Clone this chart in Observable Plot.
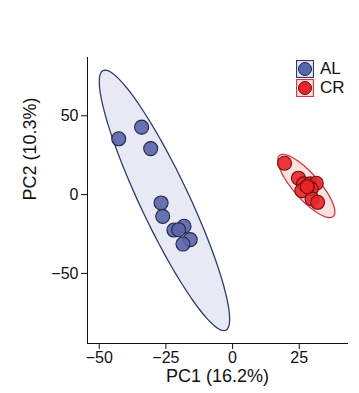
<!DOCTYPE html>
<html>
<head>
<meta charset="utf-8">
<script src="https://cdn.jsdelivr.net/npm/d3@7"></script>
<script src="https://cdn.jsdelivr.net/npm/@observablehq/plot@0.6"></script>
<style>
  html, body { margin: 0; padding: 0; background: #fff; }
  #wrap { position: relative; width: 359px; height: 393px; font-family: "Liberation Sans", Arial, sans-serif; }
  #legend { position: absolute; left: 296px; top: 59px; }
  .lg { display: flex; align-items: center; height: 19px; font-size: 17px; color: #111; }
  .lg svg { margin-right: 6px; }
</style>
</head>
<body>
<div id="wrap"><div id="legend"></div></div>
<script>
// Data (PC scores)
const groups = ["AL", "CR"];
const alPC1 = [-42.7, -34.1, -30.7, -26.8, -26.2, -22.0, -18.2, -20.2, -15.9, -18.6];
const alPC2 = [35.4, 42.8, 29.2, -5.3, -13.8, -22.5, -20.1, -22.3, -28.6, -31.4];
const crPC1 = [19.5, 24.7, 26.6, 29.1, 31.4, 29.5, 26.0, 29.8, 31.9, 28.0];
const crPC2 = [19.9, 10.4, 6.8, 6.8, 7.2, 3.6, 2.5, -2.7, -4.9, 5.0];
const xTicks = [-50, -25, 0, 25];
const yTicks = [-50, 0, 50];
const xLabel = "PC1 (16.2%)";
const yLabel = "PC2 (10.3%)";

const colors = {AL: "#5b65a9", CR: "#e8252a"};
const strokes = {AL: "#1f2449", CR: "#6e0d0d"};
const ellFill = {AL: "#e7e9f4", CR: "#fbe0e0"};
const ellStroke = {AL: "#323a6c", CR: "#d23a3a"};

const points = [
  ...alPC1.map((x, i) => ({group: "AL", x, y: alPC2[i]})),
  ...crPC1.map((x, i) => ({group: "CR", x, y: crPC2[i]}))
];

// 95% normal data ellipse (as ggplot2 stat_ellipse type = "norm")
function ellipse(xs, ys, group, level = 0.95, segments = 72) {
  const n = xs.length;
  const mx = d3.mean(xs), my = d3.mean(ys);
  let a = 0, b = 0, d = 0;
  for (let i = 0; i < n; i++) {
    const dx = xs[i] - mx, dy = ys[i] - my;
    a += dx * dx; b += dx * dy; d += dy * dy;
  }
  a /= n - 1; b /= n - 1; d /= n - 1;
  const dfd = n - 1;
  const qf = (dfd / 2) * (Math.pow(1 - level, -2 / dfd) - 1); // F(2, dfd) quantile
  const r = Math.sqrt(2 * qf);
  const R11 = Math.sqrt(a), R12 = b / R11, R22 = Math.sqrt(d - R12 * R12);
  const out = [];
  for (let k = 0; k < segments; k++) {
    const t = 2 * Math.PI * k / segments;
    const c = Math.cos(t), s = Math.sin(t);
    out.push({group, x: mx + r * c * R11, y: my + r * (c * R12 + s * R22)});
  }
  return out;
}
const ells = [...ellipse(alPC1, alPC2, "AL"), ...ellipse(crPC1, crPC2, "CR")];

const chart = Plot.plot({
  width: 359,
  height: 393,
  marginLeft: 87,
  marginRight: 12,
  marginTop: 57,
  marginBottom: 50,
  style: {fontFamily: "Liberation Sans, Arial, sans-serif", fontSize: "16px", color: "#111", background: "white"},
  x: {domain: [-54.4, 43.1], ticks: xTicks, tickFormat: d => d < 0 ? "\u2212" + Math.abs(d) : d, tickSize: 6, tickPadding: 2, label: null, line: true},
  y: {domain: [-94.5, 87], ticks: yTicks, tickFormat: d => d < 0 ? "\u2212" + Math.abs(d) : d, tickSize: 6, tickPadding: 3, label: null, line: true},
  marks: [
    Plot.line(ells, {x: "x", y: "y", z: "group", curve: "linear-closed",
      fill: d => ellFill[d.group], stroke: d => ellStroke[d.group], strokeWidth: 1.3}),
    Plot.dot(points, {x: "x", y: "y", r: 7, fill: d => colors[d.group], fillOpacity: 0.9,
      stroke: d => strokes[d.group], strokeWidth: 1.1}),
    Plot.text([xLabel], {frameAnchor: "bottom", dy: 38.5, fontSize: 18, fill: "#111"}),
    Plot.text([yLabel], {frameAnchor: "left", dx: -57, rotate: -90, fontSize: 18, fill: "#111"})
  ]
});
document.getElementById("wrap").prepend(chart);

// Legend
const legend = document.getElementById("legend");
for (const g of groups) {
  const row = document.createElement("div");
  row.className = "lg";
  row.innerHTML = `<svg width="18" height="18"><rect x="0.5" y="0.5" width="17" height="17" fill="${ellFill[g]}" stroke="${ellStroke[g]}" stroke-width="1.2"/><circle cx="9" cy="9" r="6.5" fill="${colors[g]}" stroke="${strokes[g]}" stroke-width="1"/></svg><span>${g}</span>`;
  legend.appendChild(row);
}
</script>
</body>
</html>
